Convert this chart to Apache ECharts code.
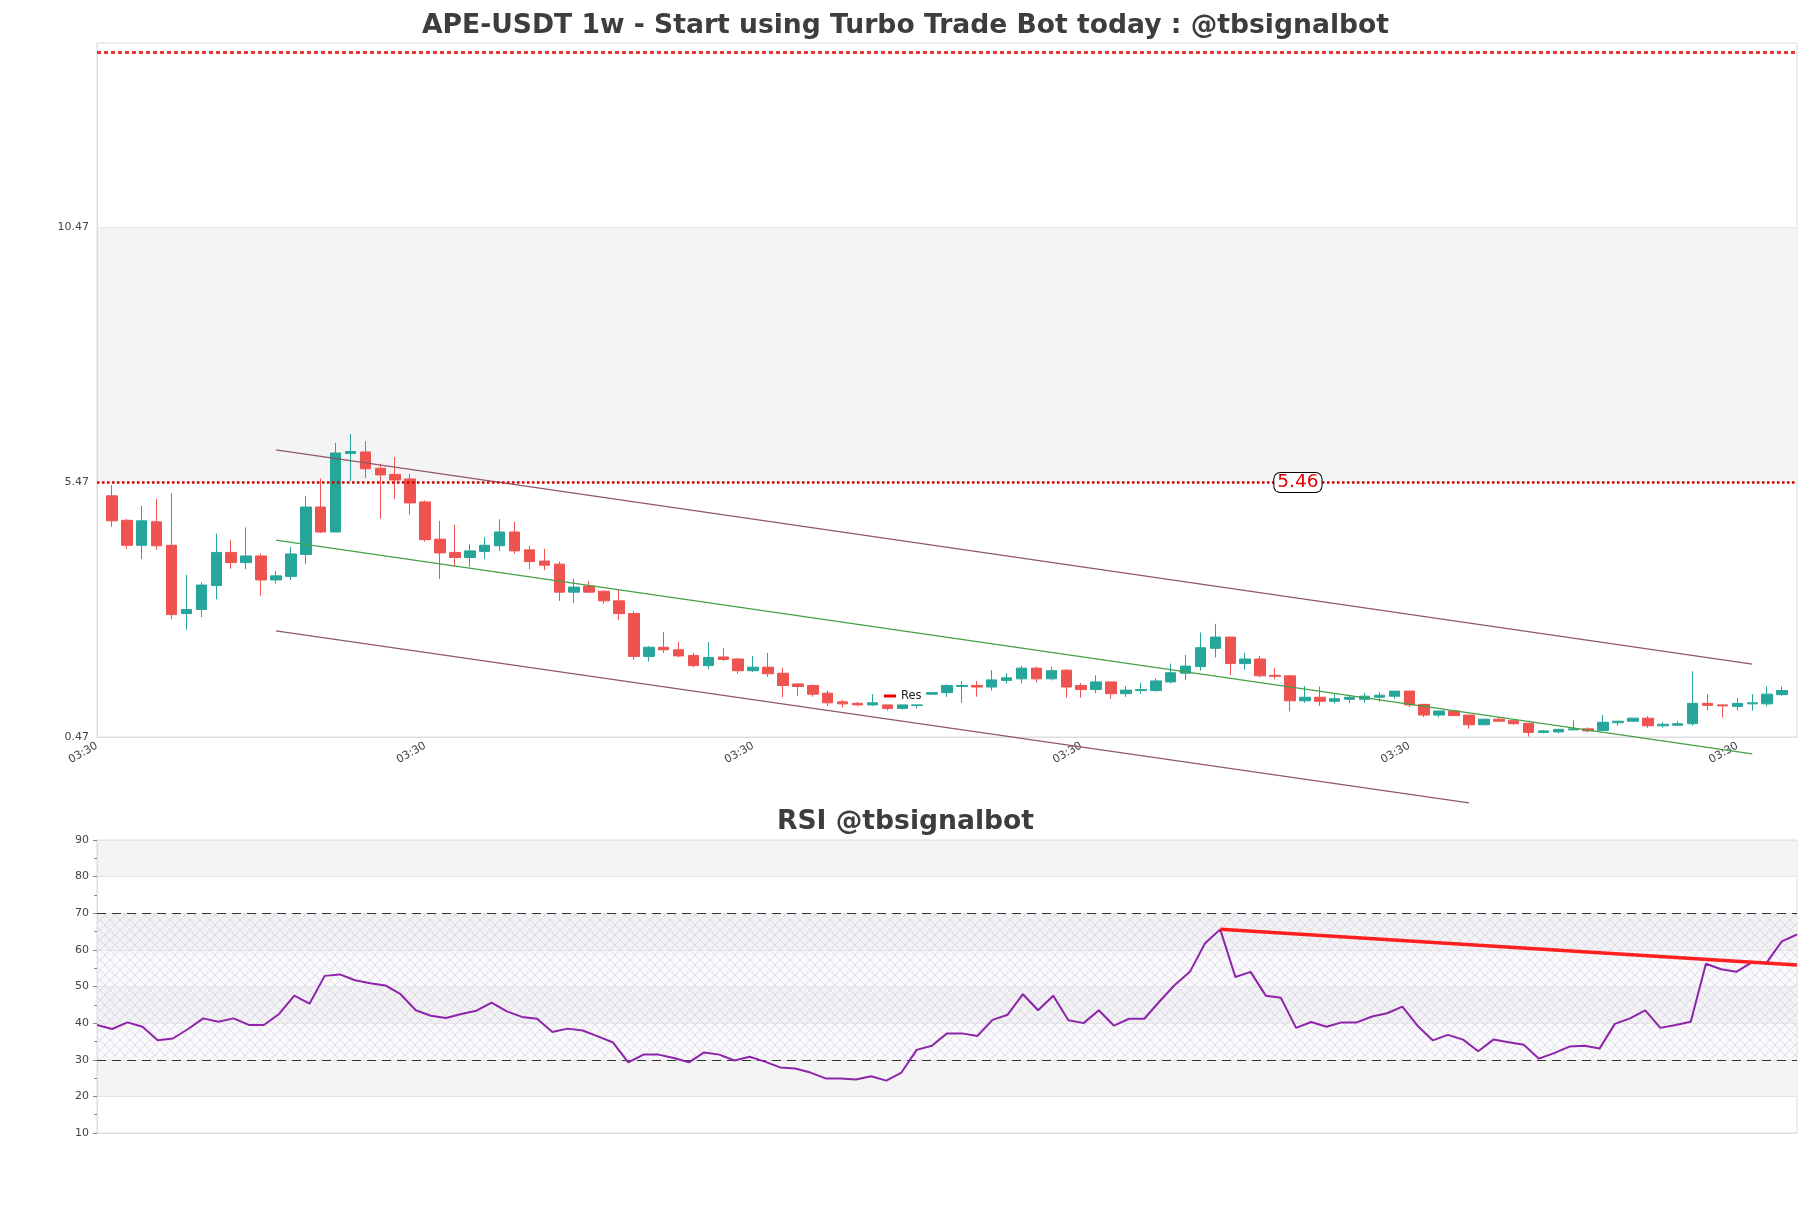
<!DOCTYPE html>
<html>
<head>
<meta charset="utf-8">
<script src="https://cdn.jsdelivr.net/npm/echarts@6/dist/echarts.min.js"></script>
<style>html,body{margin:0;padding:0;background:#fff}#c{width:1811px;height:1208px}</style>
</head>
<body>
<div id="c"></div>
<script>
// ---------- data ----------
const mainTitle = 'APE-USDT 1w - Start using Turbo Trade Bot today : @tbsignalbot';
const rsiTitle = 'RSI @tbsignalbot';
const priceTicks = [0.47, 5.47, 10.47];
const xTickText = '03:30';
const slotCount = 115; // weekly slots on the price axis (first and last are empty)
const xLabels = Array.from({length: slotCount}, () => xTickText);

// weekly candles: [open, close, low, high]
const candles = [
 [5.20,4.71,4.59,5.41],[4.72,4.23,4.16,4.75],[4.23,4.71,3.96,5.00],[4.69,4.22,4.14,5.14],[4.23,2.87,2.78,5.25],
 [2.89,2.97,2.57,3.65],[2.97,3.45,2.82,3.50],[3.44,4.09,3.17,4.46],[4.09,3.89,3.77,4.33],[3.89,4.02,3.76,4.58],
 [4.02,3.55,3.24,4.07],[3.55,3.63,3.48,3.72],[3.62,4.06,3.55,4.20],[4.05,4.98,3.86,5.20],[4.98,4.49,4.47,5.54],
 [4.49,6.04,4.49,6.24],[6.03,6.07,5.49,6.41],[6.06,5.73,5.55,6.27],[5.74,5.61,4.75,5.83],[5.62,5.51,5.14,5.96],
 [5.53,5.06,4.83,5.63],[5.08,4.34,4.30,5.11],[4.35,4.08,3.57,4.71],[4.09,3.99,3.81,4.63],[3.99,4.12,3.81,4.25],
 [4.11,4.23,3.96,4.39],[4.22,4.49,4.12,4.74],[4.49,4.12,4.06,4.69],[4.14,3.91,3.76,4.22],[3.92,3.84,3.74,4.16],
 [3.86,3.31,3.14,3.91],[3.31,3.41,3.10,3.57],[3.43,3.31,3.30,3.53],[3.33,3.14,3.08,3.35],[3.14,2.89,2.76,3.37],
 [2.89,2.05,1.98,2.94],[2.05,2.23,1.95,2.25],[2.23,2.18,2.12,2.53],[2.18,2.06,2.03,2.33],[2.07,1.87,1.84,2.12],
 [1.87,2.03,1.80,2.33],[2.04,1.99,1.96,2.21],[2.00,1.77,1.71,2.02],[1.77,1.84,1.75,2.06],[1.84,1.71,1.65,2.12],
 [1.72,1.48,1.25,1.83],[1.51,1.46,1.28,1.52],[1.48,1.31,1.26,1.50],[1.33,1.14,1.08,1.38],[1.16,1.12,1.05,1.20],
 [1.13,1.10,1.07,1.16],[1.10,1.14,1.08,1.31],[1.10,1.03,0.99,1.10],[1.03,1.10,1.01,1.10],[1.09,1.10,1.03,1.10],
 [1.31,1.34,1.30,1.35],[1.34,1.48,1.26,1.50],[1.46,1.48,1.14,1.57],[1.48,1.45,1.26,1.57],[1.45,1.59,1.38,1.78],
 [1.58,1.63,1.52,1.72],[1.61,1.82,1.52,1.87],[1.82,1.61,1.54,1.85],[1.61,1.77,1.58,1.85],[1.78,1.45,1.24,1.80],
 [1.48,1.40,1.24,1.53],[1.40,1.55,1.33,1.68],[1.55,1.32,1.22,1.55],[1.32,1.39,1.26,1.47],[1.38,1.40,1.32,1.53],
 [1.38,1.57,1.36,1.62],[1.55,1.73,1.52,1.91],[1.72,1.86,1.59,2.08],[1.85,2.22,1.77,2.52],[2.21,2.43,2.03,2.69],
 [2.43,1.91,1.69,2.43],[1.91,2.00,1.79,2.12],[2.00,1.67,1.64,2.06],[1.68,1.66,1.60,1.82],[1.67,1.18,0.97,1.68],
 [1.18,1.25,1.14,1.47],[1.25,1.17,1.08,1.46],[1.17,1.22,1.13,1.32],[1.21,1.25,1.13,1.30],[1.21,1.27,1.14,1.33],
 [1.25,1.29,1.16,1.35],[1.27,1.37,1.22,1.37],[1.37,1.10,1.06,1.37],[1.11,0.90,0.86,1.11],[0.90,0.98,0.85,0.98],
 [0.98,0.89,0.88,1.00],[0.90,0.71,0.63,0.90],[0.71,0.82,0.70,0.82],[0.82,0.78,0.77,0.86],[0.79,0.73,0.71,0.80],
 [0.74,0.56,0.48,0.74],[0.56,0.59,0.54,0.61],[0.57,0.62,0.54,0.63],[0.61,0.63,0.61,0.80],[0.63,0.59,0.56,0.66],
 [0.60,0.76,0.59,0.90],[0.75,0.78,0.69,0.79],[0.78,0.84,0.76,0.84],[0.84,0.69,0.65,0.88],[0.69,0.72,0.65,0.76],
 [0.70,0.73,0.69,0.78],[0.73,1.13,0.69,1.76],[1.13,1.09,0.99,1.31],[1.10,1.08,0.85,1.10],[1.07,1.13,0.99,1.23],
 [1.12,1.14,0.99,1.31],[1.12,1.31,1.07,1.46],[1.30,1.38,1.28,1.46]
];

const resLevel = 5.46;     // resistance line
const topLevel = 13.9;     // upper dashed level
const resLabelIndex = 81;

// regression channel endpoints [slot index, price]
const channelUpper = [[12, 6.10], [111, 1.90]];
const channelMid   = [[12, 4.33], [111, 0.14]];
const channelLower = [[12, 2.55], [92, -0.82]];

// RSI
const rsiValues = [
 39.5,38.4,40.2,39.0,35.3,35.8,38.4,41.3,40.4,41.3,
 39.5,39.5,42.5,47.5,45.3,52.9,53.3,51.7,50.9,50.3,
 47.9,43.5,42.0,41.4,42.5,43.4,45.6,43.2,41.7,41.2,
 37.6,38.5,38.0,36.4,34.7,29.3,31.4,31.4,30.5,29.3,
 32.0,31.4,29.8,30.8,29.5,27.9,27.6,26.5,24.9,24.9,
 24.6,25.5,24.3,26.5,32.7,33.8,37.2,37.2,36.5,40.9,
 42.3,47.9,43.5,47.5,40.8,40.0,43.5,39.3,41.2,41.2,
 45.9,50.4,54.0,61.8,65.6,52.6,54.0,47.5,46.9,38.7,
 40.3,39.0,40.2,40.2,41.8,42.7,44.5,39.3,35.3,36.8,
 35.5,32.3,35.5,34.8,34.1,30.3,31.8,33.6,33.8,33.1,
 39.8,41.3,43.5,38.7,39.5,40.4,56.2,54.7,54.0,56.5,
 56.5,62.3,64.2
];
const rsiLabels = rsiValues.map((v, i) => String(i));
const rsiTrend = [[74, 65.6], [112, 55.9]];
const rsiUpper = 70, rsiLower = 30;

// ---------- build ----------
const candleData = ['-'].concat(candles, ['-']);

function hatchPattern() {
  const s = 10;
  const c = document.createElement('canvas');
  c.width = s; c.height = s;
  const g = c.getContext('2d');
  g.fillStyle = 'rgba(238,234,242,0.35)';
  g.fillRect(0, 0, s, s);
  g.strokeStyle = 'rgba(175,165,195,0.38)';
  g.lineWidth = 0.8;
  g.beginPath();
  g.moveTo(0, 0); g.lineTo(s, s);
  g.moveTo(s, 0); g.lineTo(0, s);
  g.stroke();
  return c;
}

const chart = echarts.init(document.getElementById('c'), null, {renderer: 'canvas'});
const font = 'DejaVu Sans';

chart.setOption({
  animation: false,
  backgroundColor: '#fff',
  textStyle: {fontFamily: font},
  title: [
    {text: mainTitle, left: 'center', top: 8,
     textStyle: {fontFamily: font, fontSize: 26.6, fontWeight: 'bold', color: '#3d3d3d'}},
    {text: rsiTitle, left: 'center', top: 804,
     textStyle: {fontFamily: font, fontSize: 26.6, fontWeight: 'bold', color: '#3d3d3d'}}
  ],
  legend: {
    data: [{name: 'Res', icon: 'rect'}],
    left: 879, top: 685, itemWidth: 12, itemHeight: 3,
    textStyle: {fontFamily: font, fontSize: 11.5, color: '#222'}
  },
  grid: [
    {left: 97, right: 14, top: 43, height: 694, show: true, borderColor: '#ddd', borderWidth: 1},
    {left: 97, right: 14, top: 840, height: 293, show: true, borderColor: '#ddd', borderWidth: 1}
  ],
  xAxis: [
    {gridIndex: 0, type: 'category', data: xLabels, boundaryGap: false,
     axisLine: {lineStyle: {color: '#ddd'}}, axisTick: {show: false},
     axisLabel: {interval: 21, rotate: 30, fontSize: 11, color: '#444', fontFamily: font},
     splitLine: {show: false}},
    {gridIndex: 1, type: 'category', data: rsiLabels, boundaryGap: false,
     axisLine: {lineStyle: {color: '#ddd'}}, axisTick: {show: false},
     axisLabel: {show: false}, splitLine: {show: false}}
  ],
  yAxis: [
    {gridIndex: 0, type: 'value', min: 0.47, max: 14.08, scale: true,
     axisLine: {show: true, lineStyle: {color: '#ddd'}},
     axisTick: {show: false, customValues: priceTicks},
     axisLabel: {customValues: priceTicks, fontSize: 11, color: '#444', fontFamily: font,
                 formatter: v => v.toFixed(2)},
     splitLine: {show: true, lineStyle: {color: '#e8e8e8'}},
     splitArea: {show: true, areaStyle: {color: ['rgba(255,255,255,0)', '#f4f4f4']}}},
    {gridIndex: 1, type: 'value', min: 10, max: 90, interval: 10,
     axisLine: {show: true, lineStyle: {color: '#ddd'}},
     axisTick: {show: true, length: 4, lineStyle: {color: '#888'}},
     minorTick: {show: true, splitNumber: 2, length: 3, lineStyle: {color: '#888'}},
     axisLabel: {fontSize: 11, color: '#444', fontFamily: font},
     splitLine: {show: true, lineStyle: {color: '#e4e4e4'}},
     splitArea: {show: true, areaStyle: {color: ['rgba(255,255,255,0)', '#f4f4f4']}}}
  ],
  series: [
    {type: 'candlestick', name: 'APE', xAxisIndex: 0, yAxisIndex: 0, data: candleData, barWidth: 11,
     itemStyle: {color: '#26a69a', color0: '#ef5350', borderColor: '#26a69a', borderColor0: '#ef5350', borderWidth: 1},
     markLine: {symbol: 'none', silent: true, label: {show: false},
       data: [
         {yAxis: resLevel, lineStyle: {color: '#d40000', width: 2.5, type: 'dotted'}},
         {yAxis: topLevel, lineStyle: {color: '#e53935', width: 3, type: [4, 3]}}
       ]},
     markPoint: {silent: true, symbol: 'rect', symbolSize: 1, itemStyle: {color: 'rgba(0,0,0,0)'},
       data: [{coord: [resLabelIndex, resLevel], value: resLevel,
         label: {show: true, position: 'inside', offset: [-7, 0], formatter: resLevel.toFixed(2),
           color: '#e00000', fontSize: 18.5, fontFamily: font, backgroundColor: '#fff',
           borderColor: '#000', borderWidth: 1, borderRadius: 6, padding: [0, 3, 0, 3]}}]}
    },
    {type: 'line', name: 'Res', xAxisIndex: 0, yAxisIndex: 0, data: [], color: '#e00000'},
    {type: 'line', name: 'upper', xAxisIndex: 0, yAxisIndex: 0, data: channelUpper, clip: false,
     symbol: 'none', lineStyle: {color: '#8f5868', width: 1.3}, silent: true},
    {type: 'line', name: 'mid', xAxisIndex: 0, yAxisIndex: 0, data: channelMid, clip: false,
     symbol: 'none', lineStyle: {color: '#43a047', width: 1.3}, silent: true},
    {type: 'line', name: 'lower', xAxisIndex: 0, yAxisIndex: 0, data: channelLower, clip: false,
     symbol: 'none', lineStyle: {color: '#8f5868', width: 1.3}, silent: true},
    {type: 'line', name: 'RSI', xAxisIndex: 1, yAxisIndex: 1, data: rsiValues, symbol: 'none',
     lineStyle: {color: '#8e24aa', width: 2}, z: 5,
     markArea: {silent: true, itemStyle: {color: {image: hatchPattern(), repeat: 'repeat'}},
       data: [[{yAxis: rsiLower}, {yAxis: rsiUpper}]]},
     markLine: {symbol: 'none', silent: true, label: {show: false},
       lineStyle: {color: '#333', width: 1.2, type: [9, 6]},
       data: [{yAxis: rsiUpper}, {yAxis: rsiLower}]}},
    {type: 'line', name: 'RSI trend', xAxisIndex: 1, yAxisIndex: 1, data: rsiTrend, symbol: 'none',
     lineStyle: {color: '#ff1f1f', width: 3.5}, z: 6, silent: true}
  ]
});
</script>
</body>
</html>
